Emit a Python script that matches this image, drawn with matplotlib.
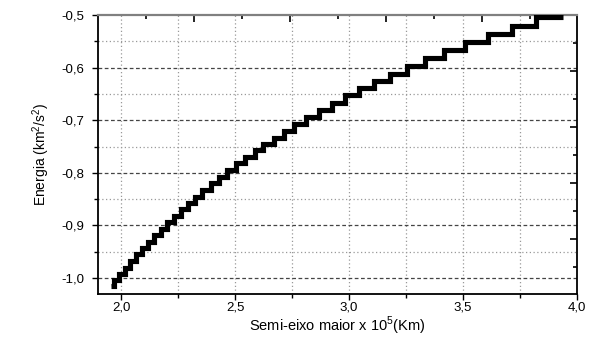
import matplotlib
matplotlib.use("Agg")
import matplotlib.pyplot as plt
from matplotlib.ticker import MultipleLocator, FuncFormatter, FixedLocator

plt.rcParams['font.family'] = ['Liberation Sans', 'DejaVu Sans']
plt.rcParams['mathtext.fontset'] = 'custom'
plt.rcParams['mathtext.rm'] = 'Liberation Sans'
plt.rcParams['axes.unicode_minus'] = False

# start of each energy level (semi-major axis, x 10^5 km) and the level itself
semi_eixo = [1.955, 1.969, 1.992, 2.015, 2.040, 2.066, 2.091, 2.118, 2.146, 2.175,
             2.200, 2.231, 2.262, 2.294, 2.323, 2.357, 2.393, 2.430, 2.466, 2.505,
             2.545, 2.587, 2.625, 2.669, 2.713, 2.759, 2.810, 2.867, 2.924, 2.984,
             3.044, 3.111, 3.179, 3.254, 3.334, 3.417, 3.510, 3.610, 3.715, 3.820,
             3.940]
energia = [-1.016, -1.004, -0.992, -0.980, -0.967, -0.955, -0.943, -0.931, -0.918, -0.906,
           -0.894, -0.882, -0.869, -0.857, -0.845, -0.832, -0.820, -0.807, -0.795, -0.782,
           -0.770, -0.757, -0.745, -0.733, -0.721, -0.707, -0.694, -0.681, -0.667, -0.652,
           -0.639, -0.626, -0.612, -0.597, -0.582, -0.567, -0.552, -0.537, -0.520, -0.503,
           -0.503]

x_lim = (1.90, 4.0)
y_lim = (-1.03, -0.5)

fig = plt.figure(figsize=(5.96, 3.37), dpi=100)
ax = fig.add_axes([0.165, 0.128, 0.8026, 0.8275])

ax.step(semi_eixo, energia, where='post', color='black', lw=3.7,
        solid_joinstyle='miter', solid_capstyle='butt', zorder=3)

ax.set_xlim(*x_lim)
ax.set_ylim(*y_lim)

ax.xaxis.set_major_locator(MultipleLocator(0.5))
ax.xaxis.set_minor_locator(MultipleLocator(0.25))
ax.yaxis.set_major_locator(MultipleLocator(0.1))
ax.yaxis.set_minor_locator(MultipleLocator(0.05))
comma = FuncFormatter(lambda v, p: f"{v:.1f}".replace('.', ','))
ax.xaxis.set_major_formatter(comma)
ax.yaxis.set_major_formatter(comma)

# grid: vertical all dotted, horizontal major dashed / minor dotted
for xv in [2.0, 2.25, 2.5, 2.75, 3.0, 3.25, 3.5, 3.75]:
    ax.axvline(xv, color='#999999', lw=0.9, ls=(0, (1, 2)), zorder=1)
for yv in [-0.55, -0.65, -0.75, -0.85, -0.95]:
    ax.axhline(yv, color='#999999', lw=0.9, ls=(0, (1, 2)), zorder=1)
for yv in [-0.6, -0.7, -0.8, -0.9, -1.0]:
    ax.axhline(yv, color='#444444', lw=0.9, ls=(0, (3, 2)), zorder=1)

ax.tick_params(which='major', direction='out', length=4, width=1,
               top=False, right=False)
ax.tick_params(which='minor', direction='out', length=3, width=1, top=False, right=False)
ax.tick_params(axis='y', which='major', pad=6, labelsize=9.5)
ax.tick_params(axis='x', which='major', pad=1.5, labelsize=9.5)

for s in ['left', 'bottom', 'right']:
    ax.spines[s].set_linewidth(1.3)
    ax.spines[s].set_color('black')
ax.spines['top'].set_linewidth(1.6)
ax.spines['top'].set_color('#808080')

# secondary scales on top and right (ticks only)
top = ax.secondary_xaxis('top')
top_ticks = [1.90 + k * 0.2105 for k in range(11)]
top.xaxis.set_major_locator(FixedLocator(top_ticks[2::2]))
top.xaxis.set_minor_locator(FixedLocator(top_ticks[1::2]))
top.tick_params(which='major', direction='in', length=5, width=1.2, labeltop=False)
top.tick_params(which='minor', direction='in', length=3, width=1.2)
top.spines['top'].set_visible(False)

right = ax.secondary_yaxis('right')
right_ticks = [-0.5 - k * 0.0532 for k in range(11)]
right.yaxis.set_major_locator(FixedLocator(right_ticks[2::2]))
right.yaxis.set_minor_locator(FixedLocator(right_ticks[1::2]))
right.tick_params(which='major', direction='in', length=5, width=1.2, labelright=False)
right.tick_params(which='minor', direction='in', length=3, width=1.2)
right.spines['right'].set_visible(False)

ax.set_xlabel("Semi-eixo maior x 10$^5$(Km)", fontsize=10.5, va='bottom')
ax.xaxis.set_label_coords(0.5, -0.153)
ax.set_ylabel("Energia (km$^2$/s$^2$)", fontsize=10, labelpad=7)

fig.savefig("out.png", dpi=100)
